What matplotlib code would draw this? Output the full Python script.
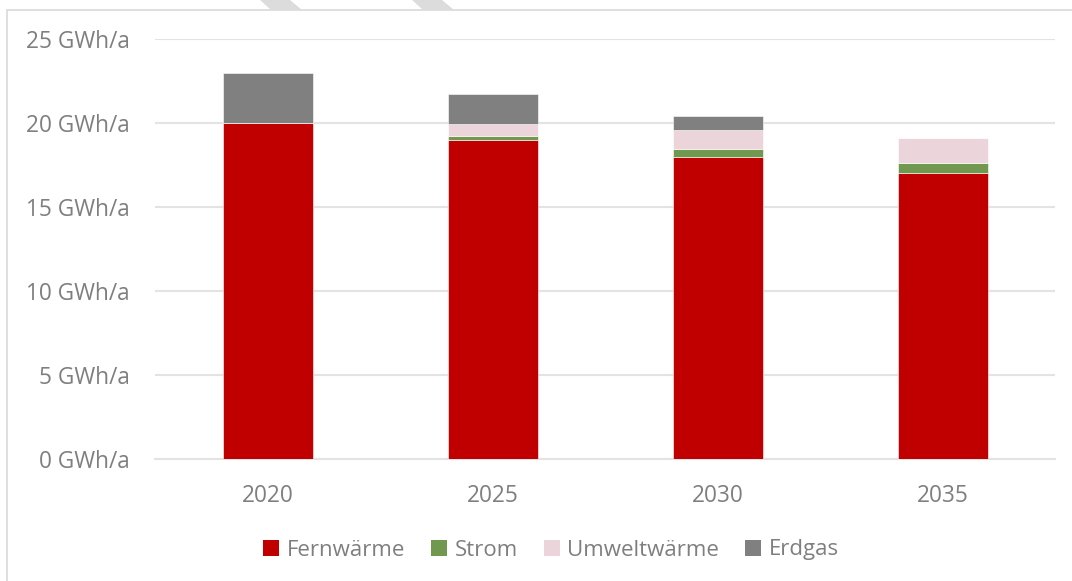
import numpy as np
import matplotlib
matplotlib.use('Agg')
import matplotlib.pyplot as plt
from matplotlib.patches import Polygon, Rectangle

plt.rcParams['font.family'] = ['Open Sans', 'DejaVu Sans']

YEARS = ['2020', '2025', '2030', '2035']
FERNWAERME = [20.0, 19.0, 18.0, 17.0]
STROM = [0.0, 0.25, 0.45, 0.6]
UMWELTWAERME = [0.0, 0.67, 1.15, 1.5]
ERDGAS = [3.0, 1.8, 0.82, 0.0]

SERIES = [('Fernwärme', FERNWAERME, '#c00000'),
          ('Strom', STROM, '#70984f'),
          ('Umweltwärme', UMWELTWAERME, '#ebd4da'),
          ('Erdgas', ERDGAS, '#808080')]

TEXT_COLOR = '#7f7f7f'
GRID_COLOR = '#e3e3e3'

W, H = 1072, 581
fig = plt.figure(figsize=(W / 100, H / 100), dpi=100)

# chart frame (only top and left edge inside the canvas)
fig.patches.append(Rectangle((7 / W, -0.1), 1.2, (H - 10) / H + 0.1, transform=fig.transFigure,
                             fill=False, edgecolor='#d9d9d9', linewidth=1.2))

# diagonal stripes above the frame
for x0 in [260, 412]:
    pts = [(x0, 0), (x0 + 30, 0), (x0 + 42, 10), (x0 + 11, 10)]
    fig.patches.append(Polygon([(x / W, 1 - y / H) for x, y in pts], closed=True,
                               transform=fig.transFigure, facecolor='#dcdcdc',
                               edgecolor='none'))

ax = fig.add_axes([155 / W, 1 - 459 / H, 900 / W, 420 / H])

x = np.arange(len(YEARS))
bottom = np.zeros(len(YEARS))
for name, vals, color in SERIES:
    vals = np.array(vals)
    ax.bar(x, vals, 0.4, bottom=bottom, color=color, label=name,
           edgecolor='white', linewidth=0.4, zorder=3)
    bottom += vals

ax.set_xlim(-0.5, len(YEARS) - 0.5)
ax.set_ylim(0, 25)
ax.set_yticks(np.arange(0, 26, 5))
ax.set_yticklabels([f'{v} GWh/a' for v in range(0, 26, 5)])
ax.set_xticks(x)
ax.set_xticklabels(YEARS)
ax.yaxis.grid(True, color=GRID_COLOR, linewidth=1.5, zorder=0)
ax.set_axisbelow(True)
for s in ax.spines.values():
    s.set_visible(False)
ax.spines['bottom'].set_visible(True)
ax.spines['bottom'].set_color(GRID_COLOR)
ax.spines['bottom'].set_linewidth(1.5)
ax.tick_params(axis='both', length=0, labelsize=16.3, colors=TEXT_COLOR)
ax.tick_params(axis='y', pad=18)
ax.tick_params(axis='x', pad=18)

leg = fig.legend(loc='center', bbox_to_anchor=(551 / W, 1 - 550 / H), ncol=4, frameon=False,
                 fontsize=16, handlelength=0.72, handleheight=0.72, handletextpad=0.35,
                 columnspacing=1.15, labelcolor=TEXT_COLOR)
for h in leg.legend_handles:
    h.set_linewidth(0)

fig.savefig('out.png', dpi=100)
